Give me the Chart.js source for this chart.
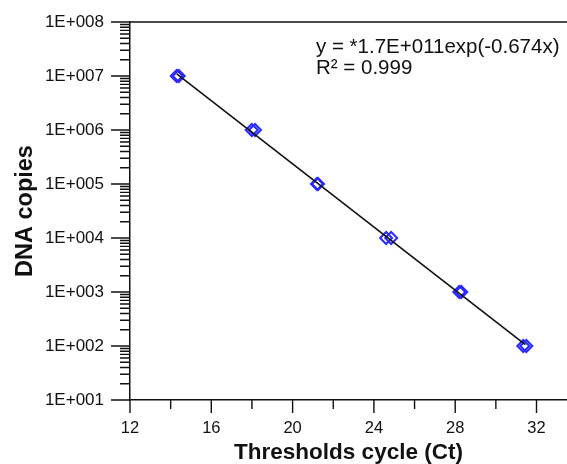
<!DOCTYPE html>
<html><head><meta charset="utf-8">
<script src="https://cdn.jsdelivr.net/npm/chart.js@4.4.0/dist/chart.umd.min.js"></script>
<style>html,body{margin:0;padding:0;background:#fff;overflow:hidden;}</style>
</head><body>
<canvas id="c" width="567" height="464" style="display:block;width:567px;height:464px;"></canvas>
<script>
// ---- data ----
const ctValues  = [14.3, 14.4, 17.99, 18.15, 21.2, 21.25, 24.6, 24.85, 28.2, 28.3, 31.35, 31.5];
const dnaCopies = [1e7, 1e7, 1e6, 1e6, 1e5, 1e5, 1e4, 1e4, 1e3, 1e3, 1e2, 1e2];
const fitCt     = [14.3, 31.45];
const fitCopies = [1.1e7, 106];
const xTickValues = [12, 14, 16, 18, 20, 22, 24, 26, 28, 30, 32];
const xTickLabels = ['12', '', '16', '', '20', '', '24', '', '28', '', '32'];
const yTickValues = [1e1, 1e2, 1e3, 1e4, 1e5, 1e6, 1e7, 1e8];
const yTickLabels = ['1E+001', '1E+002', '1E+003', '1E+004', '1E+005', '1E+006', '1E+007', '1E+008'];
const equationLines = ['y = *1.7E+011exp(-0.674x)', 'R\u00B2 = 0.999'];
const xTitle = 'Thresholds cycle (Ct)';
const yTitle = 'DNA copies';

const FONT = '"Liberation Sans", Arial, sans-serif';
const INK = '#111';
const BLUE = '#2a2aff';

const axisDecor = {
  id: 'axisDecor',
  afterDraw(chart) {
    const {ctx, chartArea: a, scales: {x, y}} = chart;
    ctx.save();
    ctx.strokeStyle = INK;
    ctx.lineWidth = 1.4;
    ctx.beginPath();
    ctx.moveTo(a.left, a.top); ctx.lineTo(a.right, a.top);
    for (let i = 0; i < yTickValues.length; i++) {
      const v = yTickValues[i];
      const py = y.getPixelForValue(v);
      ctx.moveTo(a.left - 19, py); ctx.lineTo(a.left, py);
      if (i < yTickValues.length - 1) {
        for (let m = 2; m <= 9; m++) {
          const pm = y.getPixelForValue(v * m);
          ctx.moveTo(a.left - 10, pm); ctx.lineTo(a.left, pm);
        }
      }
    }
    for (let i = 0; i < xTickValues.length; i++) {
      const px = x.getPixelForValue(xTickValues[i]);
      const len = xTickLabels[i] ? 13 : 9;
      ctx.moveTo(px, a.bottom); ctx.lineTo(px, a.bottom + len);
    }
    ctx.stroke();
    ctx.fillStyle = INK;
    ctx.font = '20.5px ' + FONT;
    ctx.textAlign = 'left';
    ctx.textBaseline = 'middle';
    ctx.fillText(equationLines[0], 316, 47);
    ctx.fillText(equationLines[1], 316, 68);
    ctx.restore();
  }
};

new Chart(document.getElementById('c'), {
  data: {
    datasets: [
      {
        type: 'line',
        data: fitCt.map((v, i) => ({x: v, y: fitCopies[i]})),
        borderColor: INK,
        borderWidth: 1.6,
        pointRadius: 0,
        tension: 0,
        fill: false
      },
      {
        type: 'scatter',
        data: ctValues.map((v, i) => ({x: v, y: dnaCopies[i]})),
        pointStyle: 'rectRot',
        pointRadius: 6,
        borderWidth: 2,
        borderColor: BLUE,
        backgroundColor: 'rgba(255,255,255,0)'
      }
    ]
  },
  options: {
    responsive: false,
    animation: false,
    devicePixelRatio: 1,
    layout: {autoPadding: false, padding: {top: 22, right: 0, left: 0, bottom: 0}},
    plugins: {legend: {display: false}, tooltip: {enabled: false}},
    scales: {
      x: {
        type: 'linear',
        min: 12, max: 33.5,
        afterBuildTicks: s => { s.ticks = xTickValues.map(v => ({value: v})); },
        afterFit: s => { s.height = 64; s.paddingLeft = 0; s.paddingRight = 0; },
        grid: {display: false, drawTicks: false},
        border: {display: true, color: INK, width: 1.5},
        ticks: {
          autoSkip: false, maxRotation: 0, padding: 19,
          color: INK, font: {family: FONT, size: 16.5},
          callback: (v, i) => xTickLabels[i]
        },
        title: {
          display: true, text: xTitle, color: INK,
          font: {family: FONT, size: 22.5, weight: 'bold', lineHeight: 1},
          padding: {top: 0, bottom: 0}
        }
      },
      y: {
        type: 'logarithmic',
        min: 10, max: 1e8,
        afterBuildTicks: s => { s.ticks = yTickValues.map(v => ({value: v})); },
        afterFit: s => { s.width = 130; s.paddingTop = 0; s.paddingBottom = 0; },
        grid: {display: false, drawTicks: false},
        border: {display: true, color: INK, width: 1.5},
        ticks: {
          autoSkip: false, padding: 26,
          color: INK, font: {family: FONT, size: 17},
          callback: (v, i) => yTickLabels[i]
        },
        title: {
          display: true, text: yTitle, color: INK,
          font: {family: FONT, size: 23.5, weight: 'bold', lineHeight: 1},
          padding: {top: 14, bottom: 0}
        }
      }
    }
  },
  plugins: [axisDecor]
});
</script>
</body></html>
